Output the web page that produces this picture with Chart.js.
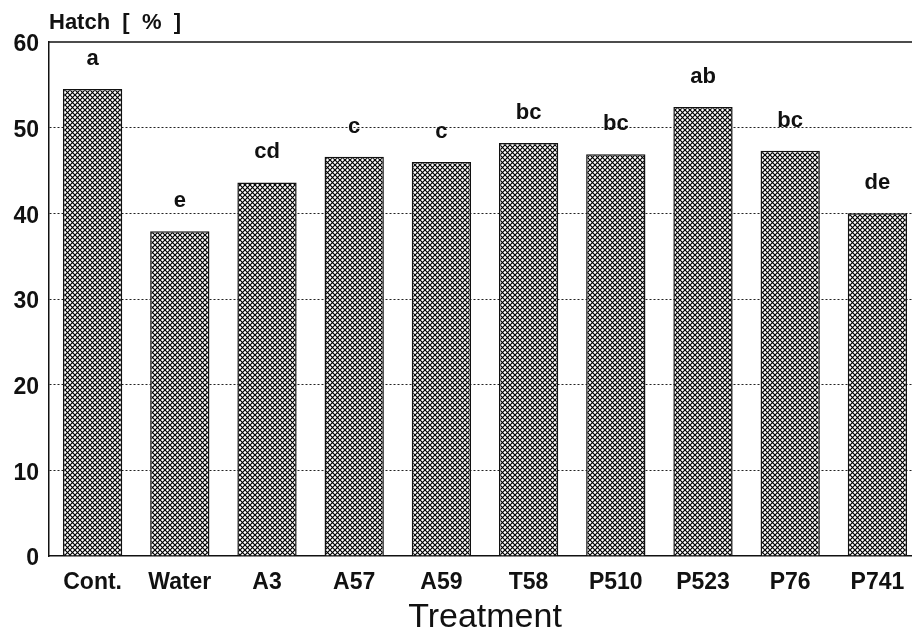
<!DOCTYPE html>
<html>
<head>
<meta charset="utf-8">
<script src="https://cdn.jsdelivr.net/npm/chart.js@4/dist/chart.umd.min.js"></script>
<style>
  html, body { margin: 0; padding: 0; background: #fff; overflow: hidden; }
  #wrap { width: 925px; height: 638px; }
</style>
</head>
<body>
<div id="wrap"><canvas id="hatchChart" width="925" height="638"></canvas></div>
<script>
// DATA
const treatments = ["Cont.", "Water", "A3", "A57", "A59", "T58", "P510", "P523", "P76", "P741"];
const hatchPercent = [54.5, 37.9, 43.6, 46.6, 46.0, 48.2, 46.9, 52.4, 47.3, 40.0];
const groupLetters = ["a", "e", "cd", "c", "c", "bc", "bc", "ab", "bc", "de"];
const yTicks = [0, 10, 20, 30, 40, 50, 60];

const FONT = "'Liberation Sans', Arial, Helvetica, sans-serif";

// CROSSHATCH FILL
function makeHatch() {
  const tile = document.createElement("canvas");
  tile.width = 5;
  tile.height = 5;
  const c = tile.getContext("2d");
  c.fillStyle = "#fff";
  c.fillRect(0, 0, 5, 5);
  c.strokeStyle = "#000";
  c.lineWidth = 1.2;
  c.beginPath();
  c.moveTo(-1, -1); c.lineTo(6, 6);
  c.moveTo(-1, 6); c.lineTo(6, -1);
  c.stroke();
  return document.getElementById("hatchChart").getContext("2d").createPattern(tile, "repeat");
}

// LETTERS ABOVE BARS + TOP FRAME + UNIT LABEL
const extras = {
  id: "extras",
  afterDraw(chart) {
    const ctx = chart.ctx;
    const area = chart.chartArea;
    ctx.save();
    ctx.strokeStyle = "#111";
    ctx.lineWidth = 1.5;
    ctx.beginPath();
    ctx.moveTo(area.left, area.top);
    ctx.lineTo(area.right, area.top);
    ctx.stroke();

    ctx.fillStyle = "#111";
    ctx.font = "bold 22px " + FONT;
    ctx.textAlign = "center";
    ctx.textBaseline = "alphabetic";
    chart.getDatasetMeta(0).data.forEach((bar, i) => {
      ctx.fillText(groupLetters[i], bar.x, bar.y - 24);
    });

    ctx.textAlign = "left";
    ctx.font = "bold 22px " + FONT;
    ctx.fillText("Hatch  [  %  ]", 49, 29);
    ctx.restore();
  }
};

new Chart(document.getElementById("hatchChart"), {
  type: "bar",
  data: {
    labels: treatments,
    datasets: [{
      data: hatchPercent,
      backgroundColor: makeHatch(),
      borderColor: "#111",
      borderWidth: 1.5,
      barPercentage: 0.68,
      categoryPercentage: 1.0,
    }],
  },
  options: {
    responsive: false,
    animation: false,
    layout: { padding: { top: 42, right: 4, left: 0, bottom: 0 } },
    plugins: {
      legend: { display: false },
      tooltip: { enabled: false },
    },
    scales: {
      x: {
        afterFit: (scale) => { scale.height = 82; },
        grid: { display: false, drawTicks: false },
        border: { display: true, color: "#111", width: 1.5 },
        ticks: {
          color: "#111",
          padding: 13,
          font: { family: FONT, size: 23, weight: "bold" },
        },
        title: {
          display: true,
          text: "Treatment",
          color: "#111",
          padding: { top: 0, bottom: 0 },
          font: { family: FONT, size: 34 },
        },
      },
      y: {
        min: 0,
        max: 60,
        afterFit: (scale) => { scale.width = 49; },
        afterBuildTicks: (scale) => { scale.ticks = yTicks.map((v) => ({ value: v })); },
        grid: {
          drawTicks: false,
          color: (ctx) => (ctx.tick.value === 0 || ctx.tick.value === 60 ? "rgba(0,0,0,0)" : "#222"),
          lineWidth: 1,
        },
        border: { display: true, color: "#111", width: 1.5, dash: [2, 2] },
        ticks: {
          color: "#111",
          padding: 10,
          labelOffset: 3,
          font: { family: FONT, size: 23, weight: "bold" },
        },
      },
    },
  },
  plugins: [extras],
});
</script>
</body>
</html>
